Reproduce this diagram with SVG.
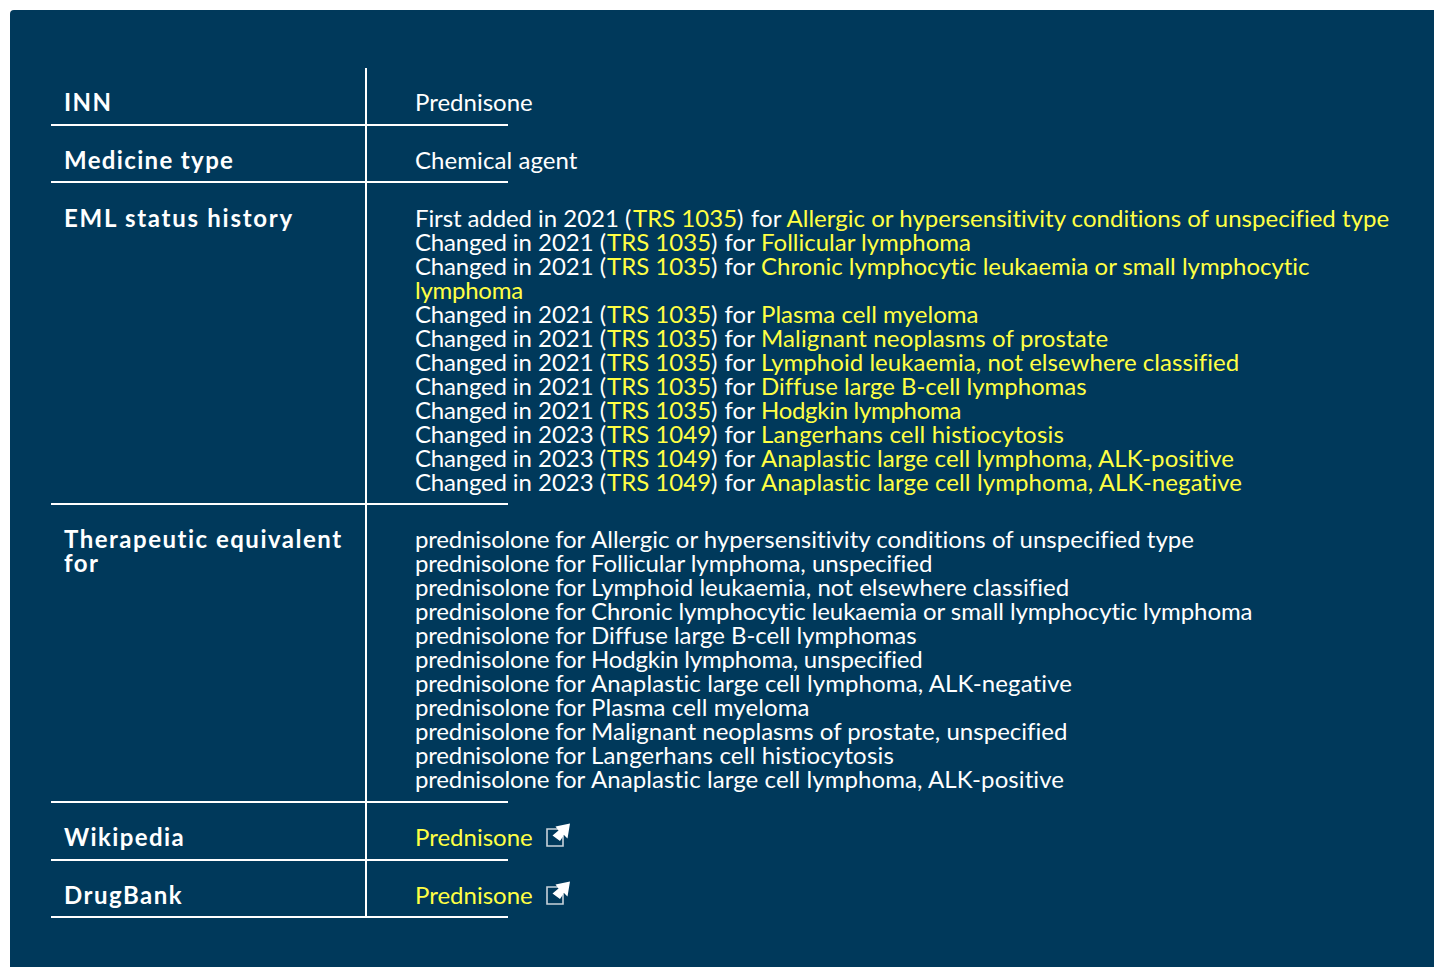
<svg xmlns="http://www.w3.org/2000/svg" width="1434" height="967" viewBox="0 0 1434 967">
<style>
text{font-family:Lato,"Liberation Sans",sans-serif;font-size:24px;fill:#fff;font-variant-ligatures:none}
.h{font-weight:700;letter-spacing:1.5px}
.y,tspan.y{fill:#ffff44}
.l{stroke:#fff;stroke-width:2;fill:none}
.f{word-spacing:1px}
.p{letter-spacing:-.17px}
.c{letter-spacing:-.2px}
</style>
<defs>
<g id="ext"><path d="M558 829H547V846H563V836" fill="none" stroke="#c8d2da" stroke-width="1.6"/><path d="M570 823.5L567.5 838.5L564 835L560 841L552.5 835.5L558.5 830.5L555.5 826.5Z" fill="#fff"/></g>
</defs>
<path d="M10 14q0-4 4-4H1434V967H10z" fill="#00395b"/>
<g id="grid">
<path class="l" d="M366 68V916M51 125H508M51 182H508M51 504H508M51 802H508M51 860H508M51 917H508"/>
</g>
<g id="labels">
<text class="h" x="64" y="111">INN</text>
<text class="h" x="64" y="169" style="letter-spacing:1.35px">Medicine type</text>
<text class="h" x="64" y="227" style="letter-spacing:1.72px">EML status history</text>
<text class="h" x="64" y="548">Therapeutic equivalent</text>
<text class="h" x="64" y="572">for</text>
<text class="h" x="64" y="846" style="letter-spacing:1.4px">Wikipedia</text>
<text class="h" x="64" y="904">DrugBank</text>
</g>
<g id="values">
<text x="415" y="111">Prednisone</text>
<text x="415" y="169" style="letter-spacing:.07px">Chemical agent</text>
<text x="415" y="227"><tspan style="letter-spacing:-.1px">First added </tspan>in 2021 (<tspan class="y" x="633">TRS 1035</tspan><tspan class="f" x="737" style="word-spacing:1.5px">) for </tspan><tspan class="y" x="786.5" style="letter-spacing:.025px">Allergic or hypersensitivity conditions of unspecified type</tspan></text>
<text x="415" y="251"><tspan class="c">Changed </tspan>in 2021 (<tspan class="y" x="607">TRS 1035</tspan><tspan class="f" x="711">) for </tspan><tspan class="y" x="761">Follicular lymphoma</tspan></text>
<text x="415" y="275"><tspan class="c">Changed </tspan>in 2021 (<tspan class="y" x="607">TRS 1035</tspan><tspan class="f" x="711">) for </tspan><tspan class="y" x="761" style="letter-spacing:-.02px">Chronic lymphocytic leukaemia or small lymphocytic</tspan></text>
<text class="y" x="415" y="299" style="letter-spacing:-.25px">lymphoma</text>
<text x="415" y="323"><tspan class="c">Changed </tspan>in 2021 (<tspan class="y" x="607">TRS 1035</tspan><tspan class="f" x="711">) for </tspan><tspan class="y" x="761" style="letter-spacing:.05px">Plasma cell myeloma</tspan></text>
<text x="415" y="347"><tspan class="c">Changed </tspan>in 2021 (<tspan class="y" x="607">TRS 1035</tspan><tspan class="f" x="711">) for </tspan><tspan class="y" x="761" style="letter-spacing:.13px">Malignant neoplasms of prostate</tspan></text>
<text x="415" y="371"><tspan class="c">Changed </tspan>in 2021 (<tspan class="y" x="607">TRS 1035</tspan><tspan class="f" x="711">) for </tspan><tspan class="y" x="761" style="letter-spacing:.045px">Lymphoid leukaemia, not elsewhere classified</tspan></text>
<text x="415" y="395"><tspan class="c">Changed </tspan>in 2021 (<tspan class="y" x="607">TRS 1035</tspan><tspan class="f" x="711">) for </tspan><tspan class="y" x="761" style="letter-spacing:-.03px">Diffuse large B-cell lymphomas</tspan></text>
<text x="415" y="419"><tspan class="c">Changed </tspan>in 2021 (<tspan class="y" x="607">TRS 1035</tspan><tspan class="f" x="711">) for </tspan><tspan class="y" x="761" style="letter-spacing:-.3px">Hodgkin lymphoma</tspan></text>
<text x="415" y="443"><tspan class="c">Changed </tspan>in 2023 (<tspan class="y" x="607">TRS 1049</tspan><tspan class="f" x="711">) for </tspan><tspan class="y" x="761" style="letter-spacing:.17px">Langerhans cell histiocytosis</tspan></text>
<text x="415" y="467"><tspan class="c">Changed </tspan>in 2023 (<tspan class="y" x="607">TRS 1049</tspan><tspan class="f" x="711">) for </tspan><tspan class="y" x="761" style="letter-spacing:.09px">Anaplastic large cell lymphoma, ALK-positive</tspan></text>
<text x="415" y="491"><tspan class="c">Changed </tspan>in 2023 (<tspan class="y" x="607">TRS 1049</tspan><tspan class="f" x="711">) for </tspan><tspan class="y" x="761" style="letter-spacing:.11px">Anaplastic large cell lymphoma, ALK-negative</tspan></text>
<text x="415" y="548"><tspan class="p">prednisolone for </tspan><tspan x="591" style="letter-spacing:.03px">Allergic or hypersensitivity conditions of unspecified type</tspan></text>
<text x="415" y="572"><tspan class="p">prednisolone for </tspan><tspan x="591" style="letter-spacing:-.03px">Follicular lymphoma, unspecified</tspan></text>
<text x="415" y="596"><tspan class="p">prednisolone for </tspan><tspan x="591" style="letter-spacing:.045px">Lymphoid leukaemia, not elsewhere classified</tspan></text>
<text x="415" y="620"><tspan class="p">prednisolone for </tspan><tspan x="591" style="letter-spacing:-.07px">Chronic lymphocytic leukaemia or small lymphocytic lymphoma</tspan></text>
<text x="415" y="644"><tspan class="p">prednisolone for </tspan><tspan x="591" style="letter-spacing:-.03px">Diffuse large B-cell lymphomas</tspan></text>
<text x="415" y="668"><tspan class="p">prednisolone for </tspan><tspan x="591" style="letter-spacing:-.2px">Hodgkin lymphoma, unspecified</tspan></text>
<text x="415" y="692"><tspan class="p">prednisolone for </tspan><tspan x="591" style="letter-spacing:.11px">Anaplastic large cell lymphoma, ALK-negative</tspan></text>
<text x="415" y="716"><tspan class="p">prednisolone for </tspan><tspan x="591" style="letter-spacing:.1px">Plasma cell myeloma</tspan></text>
<text x="415" y="740"><tspan class="p">prednisolone for </tspan><tspan x="591" style="letter-spacing:.02px">Malignant neoplasms of prostate, unspecified</tspan></text>
<text x="415" y="764"><tspan class="p">prednisolone for </tspan><tspan x="591" style="letter-spacing:.17px">Langerhans cell histiocytosis</tspan></text>
<text x="415" y="788"><tspan class="p">prednisolone for </tspan><tspan x="591" style="letter-spacing:.09px">Anaplastic large cell lymphoma, ALK-positive</tspan></text>
<text class="y" x="415" y="846">Prednisone</text>
<text class="y" x="415" y="904">Prednisone</text>
<use href="#ext"/>
<use href="#ext" y="58"/>
</g>
</svg>
